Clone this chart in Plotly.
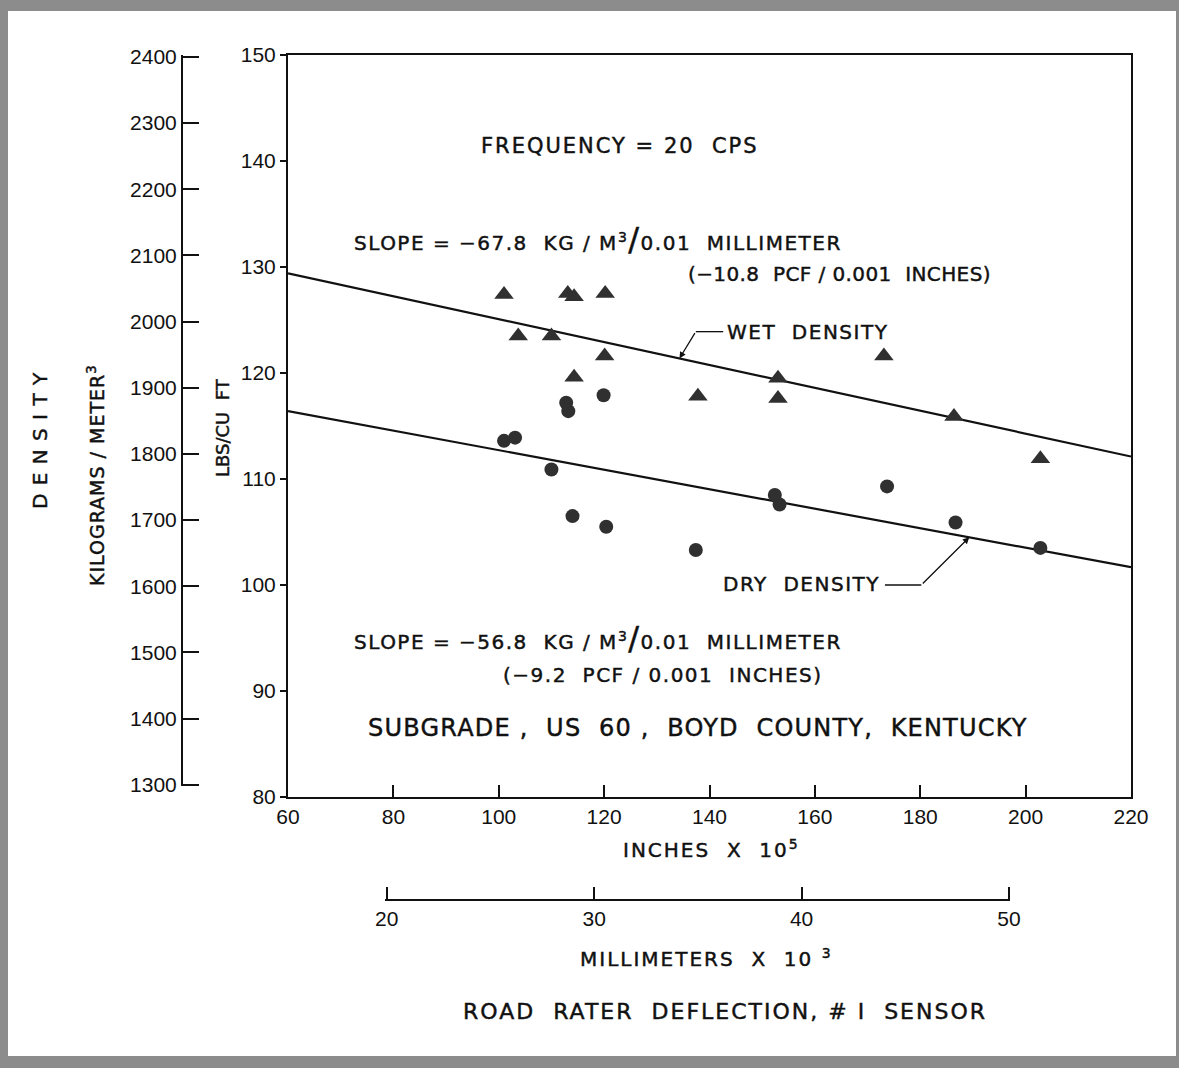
import plotly.graph_objects as go

# ---------------- data ----------------
wet_x = [101.0, 113.1, 114.3, 120.2, 103.7, 110.0, 120.1, 114.3, 137.8, 173.1, 153.0, 153.0, 186.4, 202.8]
wet_y = [127.4, 127.5, 127.2, 127.5, 123.5, 123.5, 121.6, 119.6, 117.8, 121.6, 119.5, 117.6, 115.9, 111.9]

dry_x = [119.9, 112.8, 113.2, 101.0, 103.1, 110.0, 114.0, 120.4, 137.4, 173.7, 152.4, 153.3, 186.7, 202.8]
dry_y = [117.9, 117.2, 116.4, 113.6, 113.9, 110.9, 106.5, 105.5, 103.3, 109.3, 108.5, 107.6, 105.9, 103.5]

# fitted lines: value at x=60 and slope (pcf per 1e-5 inch)
wet_fit = {"y60": 129.4, "slope": -0.108}
dry_fit = {"y60": 116.4, "slope": -0.092}
fit_x = [60, 220]

x_ticks = [60, 80, 100, 120, 140, 160, 180, 200, 220]
y_ticks = [80, 90, 100, 110, 120, 130, 140, 150]
kg_ticks = [1300, 1400, 1500, 1600, 1700, 1800, 1900, 2000, 2100, 2200, 2300, 2400]
mm_ticks = [20, 30, 40, 50]

PCF_TO_KG = 16.0185
MM_TO_IN5 = 100 / 25.4  # mm*1e3 -> inch*1e5

# ---------------- layout geometry (pixels) ----------------
FW, FH = 1179, 1068
ML, MR, MT, MB = 120, 40, 40, 150
W = FW - ML - MR
H = FH - MT - MB
BOT = FH - MB

def px(xp):
    return (xp - ML) / W

def py(yp):
    return (BOT - yp) / H

PLOT_L, PLOT_R, PLOT_T, PLOT_B = 288, 1131, 55, 797
xr = [60, 220]
yr = [80, 150]

def data_x_to_px(v):
    return PLOT_L + (v - xr[0]) / (xr[1] - xr[0]) * (PLOT_R - PLOT_L)

def data_y_to_px(v):
    return PLOT_B - (v - yr[0]) / (yr[1] - yr[0]) * (PLOT_B - PLOT_T)

FONT = "DejaVu Sans"
TICKFONT = "Liberation Sans"
INK = "#111111"
MARK = "#303030"

def sp(text, ls=1.5):
    return f"<span style='letter-spacing:{ls}px;stroke:#111111;stroke-width:0.45px'>{text}</span>"

fig = go.Figure()

def fit_vals(fit, xs):
    return [fit["y60"] + fit["slope"] * (x - 60) for x in xs]

fig.add_trace(go.Scatter(x=fit_x, y=fit_vals(wet_fit, fit_x), mode="lines",
                         line=dict(color=INK, width=2.2), showlegend=False, hoverinfo="skip"))
fig.add_trace(go.Scatter(x=fit_x, y=fit_vals(dry_fit, fit_x), mode="lines",
                         line=dict(color=INK, width=2.2), showlegend=False, hoverinfo="skip"))
fig.add_trace(go.Scatter(x=wet_x, y=wet_y, mode="markers", name="Wet density",
                         marker=dict(symbol="triangle-up", size=17, color=MARK), showlegend=False))
fig.add_trace(go.Scatter(x=dry_x, y=dry_y, mode="markers", name="Dry density",
                         marker=dict(symbol="circle", size=14, color=MARK), showlegend=False))
# carriers for secondary axes
fig.add_trace(go.Scatter(x=[None], y=[None], xaxis="x", yaxis="y2", showlegend=False, hoverinfo="skip"))
fig.add_trace(go.Scatter(x=[None], y=[None], xaxis="x2", yaxis="y", showlegend=False, hoverinfo="skip"))

tickfont = dict(family=TICKFONT, size=21, color=INK)

kg_lo = kg_ticks[0] - 2
kg_hi = yr[1] * PCF_TO_KG
kg_bottom_px = data_y_to_px(kg_lo / PCF_TO_KG)
mm_lo, mm_hi = mm_ticks[0] - 0.06, mm_ticks[-1] + 0.06
mm_l_px = data_x_to_px(mm_lo * MM_TO_IN5)
mm_r_px = data_x_to_px(mm_hi * MM_TO_IN5)

fig.update_layout(
    width=FW, height=FH,
    margin=dict(l=ML, r=MR, t=MT, b=MB),
    paper_bgcolor="white", plot_bgcolor="rgba(0,0,0,0)",
    showlegend=False,
    xaxis=dict(domain=[px(PLOT_L), px(PLOT_R)], range=xr, anchor="y",
               tickvals=x_ticks, ticks="inside", ticklen=12, tickwidth=1.5, tickcolor=INK,
               showline=True, linecolor=INK, linewidth=2, mirror=True,
               showgrid=False, zeroline=False, tickfont=tickfont),
    yaxis=dict(domain=[py(PLOT_B), py(PLOT_T)], range=yr, anchor="x",
               tickvals=y_ticks, ticks="outside", ticklen=6, tickwidth=1.5, tickcolor=INK,
               showline=True, linecolor=INK, linewidth=2, mirror=True,
               showgrid=False, zeroline=False, tickfont=tickfont),
    yaxis2=dict(domain=[py(kg_bottom_px), py(PLOT_T)],
                range=[kg_lo, kg_hi], anchor="free", position=px(182),
                side="left", tickvals=kg_ticks, ticks="inside", ticklen=16, tickwidth=1.5,
                tickcolor=INK, showline=True, linecolor=INK, linewidth=2,
                showgrid=False, zeroline=False, tickfont=tickfont),
    xaxis2=dict(domain=[px(mm_l_px), px(mm_r_px)], range=[mm_lo, mm_hi],
                anchor="free", position=py(900), side="bottom",
                tickvals=mm_ticks, ticks="inside", ticklen=12, tickwidth=1.5, tickcolor=INK,
                showline=True, linecolor=INK, linewidth=2,
                showgrid=False, zeroline=False, tickfont=tickfont),
)

big_slash = "<span style='font-size:32px'>/</span>"

def ann_data(text, x, y, xanchor="left", size=20, ls=1.5):
    fig.add_annotation(text=sp(text, ls), x=x, y=y, xref="x", yref="y", showarrow=False,
                       xanchor=xanchor, yanchor="middle",
                       font=dict(family=FONT, size=size, color=INK))

ann_data("FREQUENCY = 20  CPS", 123.0, 141.4, "center", 21, 2)
ann_data("SLOPE = −67.8  KG / M<sup>3</sup>" + big_slash + "0.01  MILLIMETER", 72.2, 132.6)
ann_data("(−10.8  PCF / 0.001  INCHES)", 135.6, 129.3, "left", 20, 0.4)
ann_data("WET  DENSITY", 143.0, 123.9)
ann_data("DRY  DENSITY", 172.8, 100.1, "right")
ann_data("SLOPE = −56.8  KG / M<sup>3</sup>" + big_slash + "0.01  MILLIMETER", 72.2, 95.0)
ann_data("(−9.2  PCF / 0.001  INCHES)", 100.4, 91.5)
ann_data("SUBGRADE ,  US  60 ,  BOYD  COUNTY,  KENTUCKY", 137.9, 86.5, "center", 24, 1.2)

# leader lines
wet_tip_x = 134.3
dry_tip_x = 189.3
wet_elbow = (137.4, 123.9)
dry_elbow = (180.2, 100.0)
fig.add_shape(type="line", xref="x", yref="y", x0=wet_elbow[0], y0=wet_elbow[1],
              x1=142.6, y1=wet_elbow[1], line=dict(color=INK, width=1.3))
fig.add_shape(type="line", xref="x", yref="y", x0=173.3, y0=dry_elbow[1],
              x1=dry_elbow[0], y1=dry_elbow[1], line=dict(color=INK, width=1.3))
fig.add_annotation(x=wet_tip_x, y=fit_vals(wet_fit, [wet_tip_x])[0], ax=wet_elbow[0], ay=wet_elbow[1],
                   xref="x", yref="y", axref="x", ayref="y", text="", showarrow=True,
                   arrowhead=2, arrowsize=1, arrowwidth=1.3, arrowcolor=INK)
fig.add_annotation(x=dry_tip_x, y=fit_vals(dry_fit, [dry_tip_x])[0], ax=dry_elbow[0], ay=dry_elbow[1],
                   xref="x", yref="y", axref="x", ayref="y", text="", showarrow=True,
                   arrowhead=2, arrowsize=1, arrowwidth=1.3, arrowcolor=INK)

def ann_px(text, xp, yp, size=20, angle=0, ls=1.5):
    fig.add_annotation(text=sp(text, ls), x=px(xp), y=py(yp), xref="paper", yref="paper",
                       showarrow=False, xanchor="center", yanchor="middle", textangle=angle,
                       font=dict(family=FONT, size=size, color=INK))

ann_px("D E N S I T Y", 40, 441, 20, -90, 1)
ann_px("KILOGRAMS / METER<sup>3</sup>", 96, 475, 19, -90, 1)
ann_px("LBS/CU  FT", 222, 428, 18, -90, 0)
ann_px("INCHES  X  10<sup>5</sup>", 711, 849, 20, 0, 2)
ann_px("MILLIMETERS  X  10 <sup>3</sup>", 706, 958, 20, 0, 2)
ann_px("ROAD  RATER  DEFLECTION, # I  SENSOR", 725, 1011, 22, 0, 2)

# scanned page border
GRAY = "#8c8c8c"
def rect_px(x0, y0, x1, y1):
    fig.add_shape(type="rect", xref="paper", yref="paper", x0=px(x0), y0=py(y0), x1=px(x1), y1=py(y1),
                  line=dict(width=0), fillcolor=GRAY, layer="above")

rect_px(0, 0, FW, 11)
rect_px(0, 0, 8, FH)
rect_px(0, 1056, FW, FH)
rect_px(1176, 0, 1179, FH)

fig.write_html("out.html", config={"displayModeBar": False},
               post_script="document.body.style.margin='0px';")
